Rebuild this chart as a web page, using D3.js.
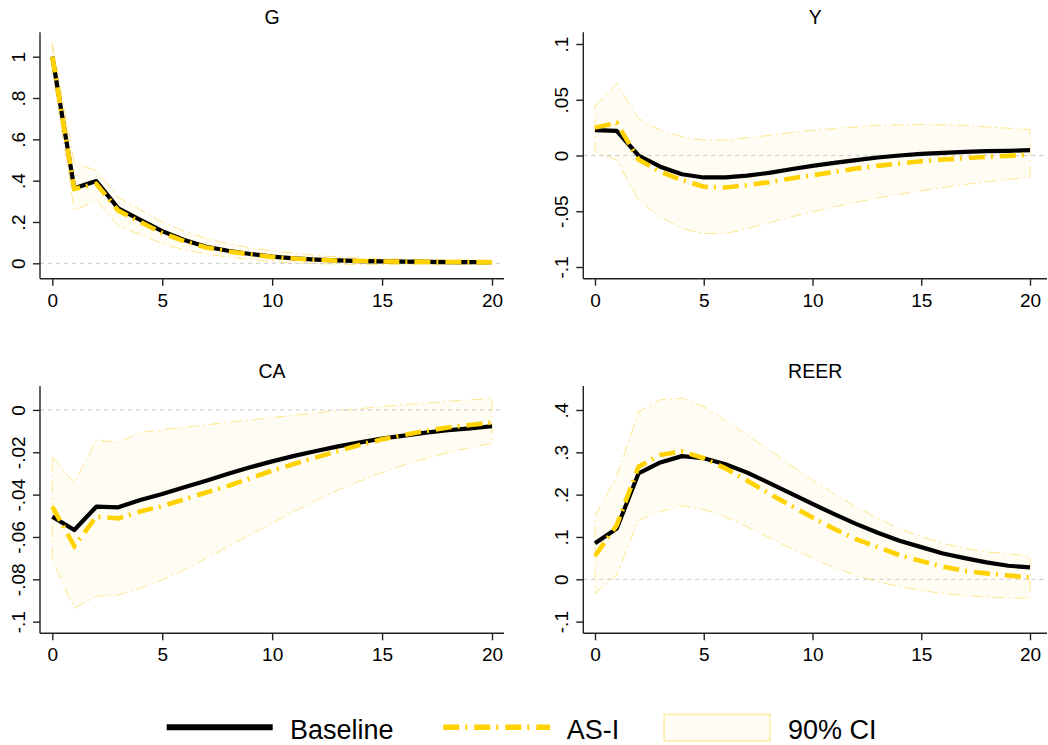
<!DOCTYPE html>
<html>
<head>
<meta charset="utf-8">
<script src="https://cdn.jsdelivr.net/npm/d3@7"></script>
<style>
  body { margin: 0; background: #fff; }
  svg { display: block; }
  text { font-family: "Liberation Sans", Arial, Helvetica, sans-serif; fill: #000; }
</style>
</head>
<body>
<svg id="chart" width="1048" height="745"></svg>
<script>
// Impulse-response horizons
const horizons = d3.range(0, 21);

// G: government spending
const gBaseline = [1.0, 0.363, 0.398, 0.266, 0.21, 0.156, 0.113, 0.08, 0.061, 0.045, 0.032, 0.024, 0.018, 0.014, 0.011, 0.009, 0.008, 0.007, 0.006, 0.006, 0.005];
const gAsI      = [1.0, 0.36, 0.385, 0.255, 0.2, 0.147, 0.107, 0.077, 0.058, 0.043, 0.031, 0.023, 0.017, 0.013, 0.011, 0.009, 0.008, 0.007, 0.006, 0.006, 0.005];
const gLow      = [0.94, 0.255, 0.306, 0.18, 0.14, 0.095, 0.065, 0.045, 0.03, 0.018, 0.008, 0.002, -0.002, -0.004, -0.005, -0.006, -0.006, -0.006, -0.006, -0.006, -0.006];
const gHigh     = [1.065, 0.489, 0.448, 0.32, 0.26, 0.2, 0.155, 0.12, 0.095, 0.075, 0.06, 0.048, 0.038, 0.031, 0.026, 0.022, 0.02, 0.018, 0.017, 0.016, 0.015];
const gTicks    = [0, 0.2, 0.4, 0.6, 0.8, 1];

// Y: output
const yBaseline = [0.0227, 0.022, 0.0, -0.010, -0.0168, -0.0197, -0.0197, -0.018, -0.0156, -0.0123, -0.0093, -0.0066, -0.0042, -0.0018, 0.0, 0.0015, 0.0024, 0.0033, 0.0039, 0.0042, 0.0048];
const yAsI      = [0.025, 0.0293, -0.0036, -0.0147, -0.022, -0.028, -0.0287, -0.0266, -0.024, -0.0206, -0.0177, -0.0147, -0.0117, -0.0093, -0.0072, -0.0051, -0.0036, -0.0024, -0.0012, -0.0003, 0.0009];
const yLow      = [0.0033, -0.0042, -0.040, -0.055, -0.0655, -0.070, -0.070, -0.0655, -0.0604, -0.055, -0.0506, -0.046, -0.0419, -0.038, -0.0347, -0.0317, -0.0287, -0.026, -0.0236, -0.0215, -0.0197];
const yHigh     = [0.0443, 0.0646, 0.0332, 0.0227, 0.0168, 0.0138, 0.0138, 0.016, 0.018, 0.0206, 0.0227, 0.024, 0.0257, 0.027, 0.0275, 0.0278, 0.0275, 0.027, 0.0257, 0.0245, 0.0233];
const yTicks    = [-0.1, -0.05, 0, 0.05, 0.1];

// CA: current account
const caBaseline = [-0.0504, -0.0567, -0.0457, -0.046, -0.0425, -0.0397, -0.0365, -0.0334, -0.0302, -0.0271, -0.0243, -0.0217, -0.0194, -0.0172, -0.0153, -0.0135, -0.0121, -0.0107, -0.0096, -0.0087, -0.0077];
const caAsI      = [-0.0457, -0.0643, -0.0504, -0.0512, -0.048, -0.0454, -0.0422, -0.039, -0.0359, -0.0323, -0.0287, -0.0255, -0.0224, -0.0194, -0.0165, -0.0139, -0.0118, -0.0099, -0.0083, -0.0071, -0.006];
const caLow      = [-0.0709, -0.0937, -0.088, -0.0874, -0.0843, -0.0803, -0.0756, -0.0701, -0.0646, -0.059, -0.0535, -0.048, -0.0428, -0.0378, -0.0335, -0.0296, -0.026, -0.0228, -0.0202, -0.0178, -0.0157];
const caHigh     = [-0.022, -0.0346, -0.0142, -0.0154, -0.0107, -0.0094, -0.0082, -0.0071, -0.0058, -0.0047, -0.0036, -0.0025, -0.0014, -0.0003, 0.0006, 0.0016, 0.0025, 0.0033, 0.0041, 0.0047, 0.0054];
const caTicks    = [-0.1, -0.08, -0.06, -0.04, -0.02, 0];

// REER: real effective exchange rate
const reerBaseline = [0.085, 0.12, 0.25, 0.276, 0.291, 0.286, 0.272, 0.252, 0.228, 0.203, 0.178, 0.154, 0.131, 0.11, 0.091, 0.076, 0.061, 0.05, 0.04, 0.032, 0.028];
const reerAsI      = [0.055, 0.128, 0.266, 0.294, 0.302, 0.286, 0.262, 0.233, 0.203, 0.174, 0.146, 0.119, 0.095, 0.076, 0.057, 0.043, 0.03, 0.02, 0.014, 0.009, 0.004];
const reerLow      = [-0.033, 0.01, 0.14, 0.16, 0.174, 0.165, 0.148, 0.124, 0.099, 0.073, 0.05, 0.028, 0.009, -0.006, -0.017, -0.027, -0.033, -0.039, -0.042, -0.044, -0.045];
const reerHigh     = [0.15, 0.243, 0.396, 0.424, 0.428, 0.408, 0.376, 0.341, 0.306, 0.27, 0.235, 0.202, 0.172, 0.144, 0.12, 0.101, 0.085, 0.073, 0.065, 0.06, 0.055];
const reerTicks    = [-0.1, 0, 0.1, 0.2, 0.3, 0.4];

const xTicks = [0, 5, 10, 15, 20];
const legendLabels = ["Baseline", "AS-I", "90% CI"];

// Styles
const BLACK = "#000";
const GOLD = "#ffd200";
const CI_FILL = "#fffcf3";
const CI_LINE = "#ffe68f";
const AXIS = "#222";
const ALT_DASH = "16,6,2,7";
const CI_DASH = "12,4,2,4";

const panels = [
  { title: "G",    base: gBaseline,    alt: gAsI,    lo: gLow,    hi: gHigh,    ticks: gTicks,    dom: [-0.0745, 1.118],  axisX: 40,    axisEnd: 504,  x0: 52.3, x20: 492,  top: 32.3, bottom: 278.7 },
  { title: "Y",    base: yBaseline,    alt: yAsI,    lo: yLow,    hi: yHigh,    ticks: yTicks,    dom: [-0.1105, 0.1105], axisX: 583.3, axisEnd: 1047, x0: 595,  x20: 1030, top: 32.3, bottom: 278.7 },
  { title: "CA",   base: caBaseline,   alt: caAsI,   lo: caLow,   hi: caHigh,   ticks: caTicks,   dom: [-0.1055, 0.0113], axisX: 40,    axisEnd: 504,  x0: 52.3, x20: 492,  top: 386,  bottom: 633.3 },
  { title: "REER", base: reerBaseline, alt: reerAsI, lo: reerLow, hi: reerHigh, ticks: reerTicks, dom: [-0.1276, 0.4567], axisX: 583.3, axisEnd: 1047, x0: 595,  x20: 1030, top: 386,  bottom: 633.3 }
];

// Stata-style labels: drop the leading zero (.2, -.05)
function fmt(v) {
  if (Math.abs(v) < 1e-12) return "0";
  return String(+v.toFixed(4)).replace(/^(-?)0\./, "$1.");
}

const svg = d3.select("#chart");

panels.forEach(p => {
  const x = d3.scaleLinear().domain([0, 20]).range([p.x0, p.x20]);
  const y = d3.scaleLinear().domain(p.dom).range([p.bottom, p.top]);
  const g = svg.append("g");

  const rows = horizons.map((h, i) => ({ h, base: p.base[i], alt: p.alt[i], lo: p.lo[i], hi: p.hi[i] }));

  // confidence band
  const area = d3.area().x(d => x(d.h)).y0(d => y(d.lo)).y1(d => y(d.hi));
  g.append("path").datum(rows).attr("d", area)
    .attr("fill", CI_FILL).attr("stroke", "none");
  // band outline as one closed polygon
  const outline = rows.map(d => [x(d.h), y(d.hi)]).concat(rows.slice().reverse().map(d => [x(d.h), y(d.lo)]));
  g.append("path").attr("d", d3.line()(outline) + "Z")
    .attr("fill", "none").attr("stroke", CI_LINE).attr("stroke-width", 1)
    .attr("stroke-dasharray", CI_DASH);

  // zero reference line
  g.append("line")
    .attr("x1", p.axisX).attr("x2", p.axisEnd)
    .attr("y1", y(0)).attr("y2", y(0))
    .attr("stroke", "#d4d4d4").attr("stroke-width", 1.3).attr("stroke-dasharray", "4,4");

  // baseline response
  g.append("path").datum(rows)
    .attr("d", d3.line().x(d => x(d.h)).y(d => y(d.base)))
    .attr("fill", "none").attr("stroke", BLACK).attr("stroke-width", 4.2)
    .attr("stroke-linejoin", "round");

  // AS-I response
  g.append("path").datum(rows)
    .attr("d", d3.line().x(d => x(d.h)).y(d => y(d.alt)))
    .attr("fill", "none").attr("stroke", GOLD).attr("stroke-width", 4.6)
    .attr("stroke-dasharray", ALT_DASH);

  // axes
  const xAxis = g.append("g").attr("transform", `translate(0,${p.bottom})`)
    .call(d3.axisBottom(x).tickValues(xTicks).tickSize(7).tickPadding(7).tickFormat(d3.format("d")));
  xAxis.select(".domain").attr("d", `M${p.axisX},0H${p.axisEnd}`);
  const yAxis = g.append("g").attr("transform", `translate(${p.axisX},0)`)
    .call(d3.axisLeft(y).tickValues(p.ticks).tickSize(7).tickFormat(fmt));
  yAxis.select(".domain").attr("d", `M0,${p.top}V${p.bottom}`);

  [xAxis, yAxis].forEach(a => {
    a.select(".domain").attr("stroke", AXIS).attr("stroke-width", 1.4);
    a.selectAll(".tick line").attr("stroke", AXIS).attr("stroke-width", 1.4);
    a.selectAll(".tick text").attr("font-size", 19).attr("fill", "#000")
      .attr("font-family", '"Liberation Sans", Arial, Helvetica, sans-serif');
  });
  xAxis.selectAll(".tick text").attr("dy", null).attr("y", 28);
  // rotated y labels, centred on each tick
  yAxis.selectAll(".tick text")
    .attr("x", null).attr("dy", null).attr("y", null)
    .attr("text-anchor", "middle")
    .attr("transform", "translate(-15,0) rotate(-90)");

  // panel title
  g.append("text")
    .attr("x", (p.axisX + p.axisEnd) / 2).attr("y", p.top - 8)
    .attr("text-anchor", "middle").attr("font-size", 19.5)
    .text(p.title);
});

// legend
const lg = svg.append("g");
const legY = 727.3;
lg.append("line").attr("x1", 166.7).attr("x2", 272.7).attr("y1", legY).attr("y2", legY)
  .attr("stroke", BLACK).attr("stroke-width", 6);
lg.append("text").attr("x", 290).attr("y", 739).attr("font-size", 27).text(legendLabels[0]);

lg.append("line").attr("x1", 443.3).attr("x2", 550).attr("y1", legY).attr("y2", legY)
  .attr("stroke", GOLD).attr("stroke-width", 5.5).attr("stroke-dasharray", ALT_DASH);
lg.append("text").attr("x", 566.7).attr("y", 739).attr("font-size", 27).text(legendLabels[1]);

lg.append("rect").attr("x", 664).attr("y", 714.3).attr("width", 106).attr("height", 26.7)
  .attr("fill", CI_FILL).attr("stroke", CI_LINE).attr("stroke-width", 1.2);
lg.append("text").attr("x", 788).attr("y", 739).attr("font-size", 27).text(legendLabels[2]);
</script>
</body>
</html>
